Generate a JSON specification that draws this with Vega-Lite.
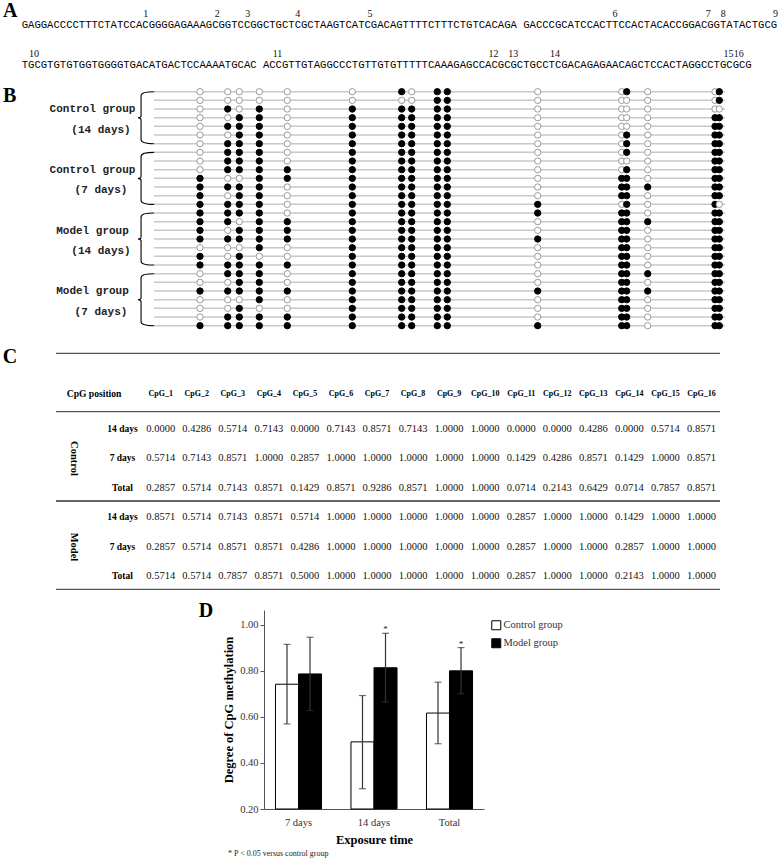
{
"$schema": "https://vega.github.io/schema/vega-lite/v6.json",
"padding": 0,
"background": "white",
"spacing": 0,
"bounds": "flush",
"resolve": {"scale": {"fill": "independent", "stroke": "independent", "x": "independent", "y": "independent"}, "legend": {"fill": "independent", "stroke": "independent"}},
"config": {"view": {"stroke": null}, "text": {"font": "Liberation Serif"}},
"datasets": {
"seqA": [
{"line": 1, "seq": "GAGGACCCCTTTCTATCCACGGGGAGAAAGCGGTCCGGCTGCTCGCTAAGTCATCGACAGTTTTCTTTCTGTCACAGA GACCCGCATCCACTTCCACTACACCGGACGGTATACTGCG"},
{"line": 2, "seq": "TGCGTGTGTGGTGGGGTGACATGACTCCAAAATGCAC ACCGTTGTAGGCCCTGTTGTGTTTTTCAAAGAGCCACGCGCTGCCTCGACAGAGAACAGCTCCACTAGGCCTGCGCG"}
],
"cpgNums": [
{"n": "1", "line": 1, "idx": 19.53},
{"n": "2", "line": 1, "idx": 30.8},
{"n": "3", "line": 1, "idx": 35.59},
{"n": "4", "line": 1, "idx": 43.46},
{"n": "5", "line": 1, "idx": 54.85},
{"n": "6", "line": 1, "idx": 93.43},
{"n": "7", "line": 1, "idx": 108.13},
{"n": "8", "line": 1, "idx": 110.49},
{"n": "9", "line": 1, "idx": 118.7},
{"n": "10", "line": 2, "idx": 1.94},
{"n": "11", "line": 2, "idx": 40.28},
{"n": "12", "line": 2, "idx": 74.3},
{"n": "13", "line": 2, "idx": 77.4},
{"n": "14", "line": 2, "idx": 83.98},
{"n": "15", "line": 2, "idx": 111.3},
{"n": "16", "line": 2, "idx": 112.9}
],
"sites": [
{"site": "CpG_1", "col": 1, "pos": 46},
{"site": "CpG_2", "col": 2, "pos": 73.7},
{"site": "CpG_3", "col": 3, "pos": 85.3},
{"site": "CpG_4", "col": 4, "pos": 105.3},
{"site": "CpG_5", "col": 5, "pos": 133.3},
{"site": "CpG_6", "col": 6, "pos": 198.3},
{"site": "CpG_7", "col": 7, "pos": 247.7},
{"site": "CpG_8", "col": 8, "pos": 257.7},
{"site": "CpG_9", "col": 9, "pos": 283.3},
{"site": "CpG_10", "col": 10, "pos": 293.3},
{"site": "CpG_11", "col": 11, "pos": 383.7},
{"site": "CpG_12", "col": 12, "pos": 467.7},
{"site": "CpG_13", "col": 13, "pos": 472.7},
{"site": "CpG_14", "col": 14, "pos": 493.7},
{"site": "CpG_15", "col": 15, "pos": 561},
{"site": "CpG_16", "col": 16, "pos": 565.3}
],
"clones": [
{"r":1,"CpG_1":0,"CpG_2":0,"CpG_3":0,"CpG_4":0,"CpG_5":0,"CpG_6":0,"CpG_7":1,"CpG_8":0,"CpG_9":1,"CpG_10":1,"CpG_11":0,"CpG_12":0,"CpG_13":1,"CpG_14":0,"CpG_15":0,"CpG_16":1},
{"r":2,"CpG_1":0,"CpG_2":0,"CpG_3":0,"CpG_4":0,"CpG_5":0,"CpG_6":0,"CpG_7":0,"CpG_8":0,"CpG_9":1,"CpG_10":1,"CpG_11":0,"CpG_12":0,"CpG_13":0,"CpG_14":0,"CpG_15":0,"CpG_16":1},
{"r":3,"CpG_1":0,"CpG_2":1,"CpG_3":0,"CpG_4":1,"CpG_5":0,"CpG_6":1,"CpG_7":1,"CpG_8":1,"CpG_9":1,"CpG_10":1,"CpG_11":0,"CpG_12":0,"CpG_13":0,"CpG_14":0,"CpG_15":0,"CpG_16":0},
{"r":4,"CpG_1":0,"CpG_2":0,"CpG_3":1,"CpG_4":1,"CpG_5":0,"CpG_6":1,"CpG_7":1,"CpG_8":1,"CpG_9":1,"CpG_10":1,"CpG_11":0,"CpG_12":0,"CpG_13":0,"CpG_14":0,"CpG_15":1,"CpG_16":1},
{"r":5,"CpG_1":0,"CpG_2":1,"CpG_3":1,"CpG_4":1,"CpG_5":0,"CpG_6":1,"CpG_7":1,"CpG_8":1,"CpG_9":1,"CpG_10":1,"CpG_11":0,"CpG_12":0,"CpG_13":0,"CpG_14":0,"CpG_15":1,"CpG_16":1},
{"r":6,"CpG_1":0,"CpG_2":0,"CpG_3":1,"CpG_4":1,"CpG_5":0,"CpG_6":1,"CpG_7":1,"CpG_8":1,"CpG_9":1,"CpG_10":1,"CpG_11":0,"CpG_12":0,"CpG_13":1,"CpG_14":0,"CpG_15":1,"CpG_16":1},
{"r":7,"CpG_1":0,"CpG_2":1,"CpG_3":1,"CpG_4":1,"CpG_5":0,"CpG_6":1,"CpG_7":1,"CpG_8":1,"CpG_9":1,"CpG_10":1,"CpG_11":0,"CpG_12":0,"CpG_13":1,"CpG_14":0,"CpG_15":1,"CpG_16":1},
{"r":8,"CpG_1":0,"CpG_2":1,"CpG_3":1,"CpG_4":1,"CpG_5":0,"CpG_6":1,"CpG_7":1,"CpG_8":1,"CpG_9":1,"CpG_10":1,"CpG_11":0,"CpG_12":0,"CpG_13":1,"CpG_14":0,"CpG_15":1,"CpG_16":1},
{"r":9,"CpG_1":0,"CpG_2":1,"CpG_3":1,"CpG_4":1,"CpG_5":0,"CpG_6":1,"CpG_7":1,"CpG_8":1,"CpG_9":1,"CpG_10":1,"CpG_11":0,"CpG_12":0,"CpG_13":0,"CpG_14":0,"CpG_15":1,"CpG_16":1},
{"r":10,"CpG_1":0,"CpG_2":1,"CpG_3":1,"CpG_4":1,"CpG_5":1,"CpG_6":1,"CpG_7":1,"CpG_8":1,"CpG_9":1,"CpG_10":1,"CpG_11":0,"CpG_12":0,"CpG_13":1,"CpG_14":0,"CpG_15":1,"CpG_16":1},
{"r":11,"CpG_1":1,"CpG_2":0,"CpG_3":0,"CpG_4":1,"CpG_5":1,"CpG_6":1,"CpG_7":1,"CpG_8":1,"CpG_9":1,"CpG_10":1,"CpG_11":0,"CpG_12":1,"CpG_13":1,"CpG_14":0,"CpG_15":1,"CpG_16":1},
{"r":12,"CpG_1":1,"CpG_2":1,"CpG_3":1,"CpG_4":1,"CpG_5":0,"CpG_6":1,"CpG_7":1,"CpG_8":1,"CpG_9":1,"CpG_10":1,"CpG_11":0,"CpG_12":1,"CpG_13":1,"CpG_14":1,"CpG_15":1,"CpG_16":1},
{"r":13,"CpG_1":1,"CpG_2":0,"CpG_3":1,"CpG_4":1,"CpG_5":0,"CpG_6":1,"CpG_7":1,"CpG_8":1,"CpG_9":1,"CpG_10":1,"CpG_11":0,"CpG_12":1,"CpG_13":1,"CpG_14":0,"CpG_15":1,"CpG_16":1},
{"r":14,"CpG_1":1,"CpG_2":1,"CpG_3":1,"CpG_4":1,"CpG_5":0,"CpG_6":1,"CpG_7":1,"CpG_8":1,"CpG_9":1,"CpG_10":1,"CpG_11":1,"CpG_12":0,"CpG_13":1,"CpG_14":0,"CpG_15":1,"CpG_16":0},
{"r":15,"CpG_1":1,"CpG_2":1,"CpG_3":1,"CpG_4":1,"CpG_5":0,"CpG_6":1,"CpG_7":1,"CpG_8":1,"CpG_9":1,"CpG_10":1,"CpG_11":1,"CpG_12":1,"CpG_13":1,"CpG_14":0,"CpG_15":1,"CpG_16":1},
{"r":16,"CpG_1":1,"CpG_2":1,"CpG_3":0,"CpG_4":1,"CpG_5":1,"CpG_6":1,"CpG_7":1,"CpG_8":1,"CpG_9":1,"CpG_10":1,"CpG_11":0,"CpG_12":1,"CpG_13":1,"CpG_14":1,"CpG_15":1,"CpG_16":1},
{"r":17,"CpG_1":1,"CpG_2":0,"CpG_3":1,"CpG_4":1,"CpG_5":1,"CpG_6":1,"CpG_7":1,"CpG_8":1,"CpG_9":1,"CpG_10":1,"CpG_11":0,"CpG_12":1,"CpG_13":1,"CpG_14":0,"CpG_15":1,"CpG_16":1},
{"r":18,"CpG_1":1,"CpG_2":1,"CpG_3":1,"CpG_4":1,"CpG_5":1,"CpG_6":1,"CpG_7":1,"CpG_8":1,"CpG_9":1,"CpG_10":1,"CpG_11":1,"CpG_12":1,"CpG_13":1,"CpG_14":0,"CpG_15":1,"CpG_16":1},
{"r":19,"CpG_1":0,"CpG_2":0,"CpG_3":0,"CpG_4":1,"CpG_5":0,"CpG_6":1,"CpG_7":1,"CpG_8":1,"CpG_9":1,"CpG_10":1,"CpG_11":0,"CpG_12":1,"CpG_13":1,"CpG_14":0,"CpG_15":1,"CpG_16":1},
{"r":20,"CpG_1":1,"CpG_2":0,"CpG_3":1,"CpG_4":0,"CpG_5":0,"CpG_6":1,"CpG_7":1,"CpG_8":1,"CpG_9":1,"CpG_10":1,"CpG_11":0,"CpG_12":1,"CpG_13":1,"CpG_14":0,"CpG_15":1,"CpG_16":1},
{"r":21,"CpG_1":1,"CpG_2":1,"CpG_3":1,"CpG_4":1,"CpG_5":1,"CpG_6":1,"CpG_7":1,"CpG_8":1,"CpG_9":1,"CpG_10":1,"CpG_11":0,"CpG_12":1,"CpG_13":1,"CpG_14":0,"CpG_15":1,"CpG_16":1},
{"r":22,"CpG_1":0,"CpG_2":1,"CpG_3":1,"CpG_4":1,"CpG_5":0,"CpG_6":1,"CpG_7":1,"CpG_8":1,"CpG_9":1,"CpG_10":1,"CpG_11":0,"CpG_12":1,"CpG_13":1,"CpG_14":1,"CpG_15":1,"CpG_16":1},
{"r":23,"CpG_1":0,"CpG_2":0,"CpG_3":1,"CpG_4":1,"CpG_5":0,"CpG_6":1,"CpG_7":1,"CpG_8":1,"CpG_9":1,"CpG_10":1,"CpG_11":0,"CpG_12":1,"CpG_13":1,"CpG_14":0,"CpG_15":1,"CpG_16":1},
{"r":24,"CpG_1":1,"CpG_2":1,"CpG_3":1,"CpG_4":1,"CpG_5":1,"CpG_6":1,"CpG_7":1,"CpG_8":1,"CpG_9":1,"CpG_10":1,"CpG_11":1,"CpG_12":1,"CpG_13":1,"CpG_14":1,"CpG_15":1,"CpG_16":1},
{"r":25,"CpG_1":0,"CpG_2":0,"CpG_3":0,"CpG_4":1,"CpG_5":0,"CpG_6":1,"CpG_7":1,"CpG_8":1,"CpG_9":1,"CpG_10":1,"CpG_11":0,"CpG_12":1,"CpG_13":1,"CpG_14":0,"CpG_15":1,"CpG_16":1},
{"r":26,"CpG_1":0,"CpG_2":0,"CpG_3":1,"CpG_4":0,"CpG_5":0,"CpG_6":1,"CpG_7":1,"CpG_8":1,"CpG_9":1,"CpG_10":1,"CpG_11":0,"CpG_12":1,"CpG_13":1,"CpG_14":0,"CpG_15":1,"CpG_16":1},
{"r":27,"CpG_1":0,"CpG_2":1,"CpG_3":1,"CpG_4":1,"CpG_5":1,"CpG_6":1,"CpG_7":1,"CpG_8":1,"CpG_9":1,"CpG_10":1,"CpG_11":0,"CpG_12":1,"CpG_13":1,"CpG_14":0,"CpG_15":1,"CpG_16":1},
{"r":28,"CpG_1":1,"CpG_2":1,"CpG_3":1,"CpG_4":1,"CpG_5":1,"CpG_6":1,"CpG_7":1,"CpG_8":1,"CpG_9":1,"CpG_10":1,"CpG_11":1,"CpG_12":1,"CpG_13":1,"CpG_14":0,"CpG_15":1,"CpG_16":1}
],
"groupsB": [
{"g": "Control group", "d": "(14 days)", "r": 4},
{"g": "Control group", "d": "(7 days)", "r": 11},
{"g": "Model group", "d": "(14 days)", "r": 18},
{"g": "Model group", "d": "(7 days)", "r": 25}
],
"tbl": [
{"g":"Control","p":"14 days","r":1,"CpG_1":0,"CpG_2":0.4286,"CpG_3":0.5714,"CpG_4":0.7143,"CpG_5":0,"CpG_6":0.7143,"CpG_7":0.8571,"CpG_8":0.7143,"CpG_9":1,"CpG_10":1,"CpG_11":0,"CpG_12":0,"CpG_13":0.4286,"CpG_14":0,"CpG_15":0.5714,"CpG_16":0.8571},
{"g":"Control","p":"7 days","r":2,"CpG_1":0.5714,"CpG_2":0.7143,"CpG_3":0.8571,"CpG_4":1,"CpG_5":0.2857,"CpG_6":1,"CpG_7":1,"CpG_8":1,"CpG_9":1,"CpG_10":1,"CpG_11":0.1429,"CpG_12":0.4286,"CpG_13":0.8571,"CpG_14":0.1429,"CpG_15":1,"CpG_16":0.8571},
{"g":"Control","p":"Total","r":3,"CpG_1":0.2857,"CpG_2":0.5714,"CpG_3":0.7143,"CpG_4":0.8571,"CpG_5":0.1429,"CpG_6":0.8571,"CpG_7":0.9286,"CpG_8":0.8571,"CpG_9":1,"CpG_10":1,"CpG_11":0.0714,"CpG_12":0.2143,"CpG_13":0.6429,"CpG_14":0.0714,"CpG_15":0.7857,"CpG_16":0.8571},
{"g":"Model","p":"14 days","r":4,"CpG_1":0.8571,"CpG_2":0.5714,"CpG_3":0.7143,"CpG_4":0.8571,"CpG_5":0.5714,"CpG_6":1,"CpG_7":1,"CpG_8":1,"CpG_9":1,"CpG_10":1,"CpG_11":0.2857,"CpG_12":1,"CpG_13":1,"CpG_14":0.1429,"CpG_15":1,"CpG_16":1},
{"g":"Model","p":"7 days","r":5,"CpG_1":0.2857,"CpG_2":0.5714,"CpG_3":0.8571,"CpG_4":0.8571,"CpG_5":0.4286,"CpG_6":1,"CpG_7":1,"CpG_8":1,"CpG_9":1,"CpG_10":1,"CpG_11":0.2857,"CpG_12":1,"CpG_13":1,"CpG_14":0.2857,"CpG_15":1,"CpG_16":1},
{"g":"Model","p":"Total","r":6,"CpG_1":0.5714,"CpG_2":0.5714,"CpG_3":0.7857,"CpG_4":0.8571,"CpG_5":0.5,"CpG_6":1,"CpG_7":1,"CpG_8":1,"CpG_9":1,"CpG_10":1,"CpG_11":0.2857,"CpG_12":1,"CpG_13":1,"CpG_14":0.2143,"CpG_15":1,"CpG_16":1}
],
"bars": [
{"time": "7 days", "group": "Control group", "mean": 0.7411, "lo": 0.569, "hi": 0.914, "sig": ""},
{"time": "7 days", "group": "Model group", "mean": 0.7857, "lo": 0.627, "hi": 0.945, "sig": ""},
{"time": "14 days", "group": "Control group", "mean": 0.4911, "lo": 0.288, "hi": 0.692, "sig": ""},
{"time": "14 days", "group": "Model group", "mean": 0.8125, "lo": 0.664, "hi": 0.962, "sig": "*"},
{"time": "Total", "group": "Control group", "mean": 0.6161, "lo": 0.483, "hi": 0.75, "sig": ""},
{"time": "Total", "group": "Model group", "mean": 0.7991, "lo": 0.70, "hi": 0.90, "sig": "*"}
]
},
"vconcat": [
{
"width": 778, "height": 75,
"layer": [
{"data": {"name": "seqA"},
 "mark": {"type": "text", "align": "left", "baseline": "middle", "font": "Liberation Mono", "fontSize": 10.58, "color": "#000"},
 "encoding": {
  "x": {"datum": 0, "type": "quantitative", "scale": {"domain": [-3.417, 119.1]}, "axis": null},
  "y": {"field": "line", "type": "quantitative", "scale": {"domain": [0.3875, 2.2625], "reverse": true}, "axis": null},
  "text": {"field": "seq"}}},
{"data": {"name": "cpgNums"},
 "mark": {"type": "text", "align": "center", "baseline": "middle", "font": "Liberation Serif", "fontSize": 10, "dy": -11, "color": "#111"},
 "encoding": {
  "x": {"field": "idx", "type": "quantitative", "scale": {"domain": [-3.417, 119.1]}, "axis": null},
  "y": {"field": "line", "type": "quantitative", "scale": {"domain": [0.3875, 2.2625], "reverse": true}, "axis": null},
  "text": {"field": "n"}}},
{"data": {"values": [{"t": "A"}]},
 "mark": {"type": "text", "align": "left", "baseline": "alphabetic", "font": "Liberation Serif", "fontSize": 20, "fontWeight": "bold", "dy": -7.8},
 "encoding": {
  "x": {"datum": -2.945, "type": "quantitative", "scale": {"domain": [-3.417, 119.1]}, "axis": null},
  "y": {"datum": 1, "type": "quantitative", "scale": {"domain": [0.3875, 2.2625], "reverse": true}, "axis": null},
  "text": {"field": "t"}}}
]
},
{
"width": 778, "height": 265,
"layer": [
{"data": {"name": "clones"},
 "mark": {"type": "rule", "color": "#c8c8c8", "strokeWidth": 1.5},
 "encoding": {
  "x": {"datum": 0, "type": "quantitative", "scale": {"domain": [-154, 624]}, "axis": null},
  "x2": {"datum": 571},
  "y": {"field": "r", "type": "quantitative", "scale": {"domain": [-0.927, 29.65], "reverse": true}, "axis": null}}},
{"data": {"name": "clones"},
 "transform": [
  {"fold": ["CpG_1","CpG_2","CpG_3","CpG_4","CpG_5","CpG_6","CpG_7","CpG_8","CpG_9","CpG_10","CpG_11","CpG_12","CpG_13","CpG_14","CpG_15","CpG_16"], "as": ["site", "v"]},
  {"lookup": "site", "from": {"data": {"name": "sites"}, "key": "site", "fields": ["pos"]}}],
 "mark": {"type": "point", "shape": "circle", "filled": true, "size": 40, "strokeWidth": 1, "opacity": 1},
 "encoding": {
  "x": {"field": "pos", "type": "quantitative", "scale": {"domain": [-154, 624]}, "axis": null},
  "y": {"field": "r", "type": "quantitative", "scale": {"domain": [-0.927, 29.65], "reverse": true}, "axis": null},
  "fill": {"field": "v", "type": "nominal", "scale": {"domain": [0, 1], "range": ["white", "black"]}, "legend": null},
  "stroke": {"field": "v", "type": "nominal", "scale": {"domain": [0, 1], "range": ["#9a9a9a", "black"]}, "legend": null}}},
{"data": {"name": "groupsB"},
 "mark": {"type": "point", "shape": "M 0.31 -1 C 0.05 -1 -0.19 -0.97 -0.19 -0.85 L -0.19 -0.08 Q -0.19 0 -0.31 0 Q -0.19 0 -0.19 0.08 L -0.19 0.85 C -0.19 0.97 0.05 1 0.31 1", "filled": false, "color": "black", "strokeWidth": 1.1, "size": 2704, "opacity": 1},
 "encoding": {
  "x": {"datum": -8, "type": "quantitative", "scale": {"domain": [-154, 624]}, "axis": null},
  "y": {"field": "r", "type": "quantitative", "scale": {"domain": [-0.927, 29.65], "reverse": true}, "axis": null}}},
{"data": {"name": "groupsB"},
 "mark": {"type": "text", "align": "center", "baseline": "middle", "font": "Liberation Mono", "fontSize": 11, "fontWeight": "bold", "dy": -8.4, "color": "#222"},
 "encoding": {
  "x": {"datum": -61.5, "type": "quantitative", "scale": {"domain": [-154, 624]}, "axis": null},
  "y": {"field": "r", "type": "quantitative", "scale": {"domain": [-0.927, 29.65], "reverse": true}, "axis": null},
  "text": {"field": "g"}}},
{"data": {"name": "groupsB"},
 "mark": {"type": "text", "align": "center", "baseline": "middle", "font": "Liberation Mono", "fontSize": 11, "fontWeight": "bold", "dy": 12, "color": "#222"},
 "encoding": {
  "x": {"datum": -53, "type": "quantitative", "scale": {"domain": [-154, 624]}, "axis": null},
  "y": {"field": "r", "type": "quantitative", "scale": {"domain": [-0.927, 29.65], "reverse": true}, "axis": null},
  "text": {"field": "d"}}},
{"data": {"values": [{"t": "B"}]},
 "mark": {"type": "text", "align": "left", "baseline": "alphabetic", "font": "Liberation Serif", "fontSize": 20, "fontWeight": "bold"},
 "encoding": {
  "x": {"datum": -151, "type": "quantitative", "scale": {"domain": [-154, 624]}, "axis": null},
  "y": {"datum": 2.154, "type": "quantitative", "scale": {"domain": [-0.927, 29.65], "reverse": true}, "axis": null},
  "text": {"field": "t"}}}
]
},
{
"width": 778, "height": 270,
"layer": [
{"data": {"values": [{"t": "C"}]},
 "mark": {"type": "rule", "color": "#555", "strokeWidth": 1.3},
 "encoding": {
  "x": {"datum": -1.904, "type": "quantitative", "scale": {"domain": [-3.458, 18.123]}, "axis": null},
  "x2": {"datum": 16.515},
  "y": {"datum": -1.566, "type": "quantitative", "scale": {"domain": [-2.017, 7.136], "reverse": true}, "axis": null}}},
{"data": {"values": [{"t": "C"}]},
 "mark": {"type": "rule", "color": "#555", "strokeWidth": 1.3},
 "encoding": {
  "x": {"datum": -1.904, "type": "quantitative", "scale": {"domain": [-3.458, 18.123]}, "axis": null},
  "x2": {"datum": 16.515},
  "y": {"datum": 0.414, "type": "quantitative", "scale": {"domain": [-2.017, 7.136], "reverse": true}, "axis": null}}},
{"data": {"values": [{"t": "C"}]},
 "mark": {"type": "rule", "color": "#666", "strokeWidth": 2.2},
 "encoding": {
  "x": {"datum": -1.904, "type": "quantitative", "scale": {"domain": [-3.458, 18.123]}, "axis": null},
  "x2": {"datum": 16.515},
  "y": {"datum": 3.441, "type": "quantitative", "scale": {"domain": [-2.017, 7.136], "reverse": true}, "axis": null}}},
{"data": {"values": [{"t": "C"}]},
 "mark": {"type": "rule", "color": "#555", "strokeWidth": 1.3},
 "encoding": {
  "x": {"datum": -1.904, "type": "quantitative", "scale": {"domain": [-3.458, 18.123]}, "axis": null},
  "x2": {"datum": 16.515},
  "y": {"datum": 6.434, "type": "quantitative", "scale": {"domain": [-2.017, 7.136], "reverse": true}, "axis": null}}},
{"data": {"values": [{"t": "C"}]},
 "mark": {"type": "text", "align": "center", "baseline": "alphabetic", "font": "Liberation Serif", "fontSize": 20, "fontWeight": "bold"},
 "encoding": {
  "x": {"datum": -3.18, "type": "quantitative", "scale": {"domain": [-3.458, 18.123]}, "axis": null},
  "y": {"datum": -1.227, "type": "quantitative", "scale": {"domain": [-2.017, 7.136], "reverse": true}, "axis": null},
  "text": {"field": "t"}}},
{"data": {"values": [{"t": "CpG position"}]},
 "mark": {"type": "text", "align": "left", "baseline": "middle", "font": "Liberation Serif", "fontSize": 9.6, "fontWeight": "bold"},
 "encoding": {
  "x": {"datum": -1.607, "type": "quantitative", "scale": {"domain": [-3.458, 18.123]}, "axis": null},
  "y": {"datum": -0.176, "type": "quantitative", "scale": {"domain": [-2.017, 7.136], "reverse": true}, "axis": null},
  "text": {"field": "t"}}},
{"data": {"name": "sites"},
 "mark": {"type": "text", "align": "center", "baseline": "middle", "font": "Liberation Serif", "fontSize": 8, "fontWeight": "bold"},
 "encoding": {
  "x": {"field": "col", "type": "quantitative", "scale": {"domain": [-3.458, 18.123]}, "axis": null},
  "y": {"datum": -0.176, "type": "quantitative", "scale": {"domain": [-2.017, 7.136], "reverse": true}, "axis": null},
  "text": {"field": "site"}}},
{"data": {"name": "tbl"},
 "mark": {"type": "text", "align": "center", "baseline": "middle", "font": "Liberation Serif", "fontSize": 9.5, "fontWeight": "bold"},
 "encoding": {
  "x": {"datum": -0.06, "type": "quantitative", "scale": {"domain": [-3.458, 18.123]}, "axis": null},
  "y": {"field": "r", "type": "quantitative", "scale": {"domain": [-2.017, 7.136], "reverse": true}, "axis": null},
  "text": {"field": "p"}}},
{"data": {"name": "tbl"},
 "transform": [{"filter": "datum.p === '7 days'"}],
 "mark": {"type": "text", "align": "center", "baseline": "middle", "font": "Liberation Serif", "fontSize": 10.5, "fontWeight": "bold", "angle": 90},
 "encoding": {
  "x": {"datum": -1.405, "type": "quantitative", "scale": {"domain": [-3.458, 18.123]}, "axis": null},
  "y": {"field": "r", "type": "quantitative", "scale": {"domain": [-2.017, 7.136], "reverse": true}, "axis": null},
  "text": {"field": "g"}}},
{"data": {"name": "tbl"},
 "transform": [
  {"fold": ["CpG_1","CpG_2","CpG_3","CpG_4","CpG_5","CpG_6","CpG_7","CpG_8","CpG_9","CpG_10","CpG_11","CpG_12","CpG_13","CpG_14","CpG_15","CpG_16"], "as": ["site", "v"]},
  {"lookup": "site", "from": {"data": {"name": "sites"}, "key": "site", "fields": ["col"]}}],
 "mark": {"type": "text", "align": "center", "baseline": "middle", "font": "Liberation Serif", "fontSize": 10.5, "color": "#111"},
 "encoding": {
  "x": {"field": "col", "type": "quantitative", "scale": {"domain": [-3.458, 18.123]}, "axis": null},
  "y": {"field": "r", "type": "quantitative", "scale": {"domain": [-2.017, 7.136], "reverse": true}, "axis": null},
  "text": {"field": "v", "type": "quantitative", "format": ".4f"}}}
]
},
{
"hconcat": [
{"width": 264, "height": 199,
 "data": {"values": [{"t": "D"}]},
 "mark": {"type": "text", "align": "center", "baseline": "alphabetic", "font": "Liberation Serif", "fontSize": 20, "fontWeight": "bold"},
 "encoding": {
  "x": {"datum": 0.78, "type": "quantitative", "scale": {"domain": [0, 1]}, "axis": null},
  "y": {"datum": 0.966, "type": "quantitative", "scale": {"domain": [0, 1]}, "axis": null},
  "text": {"field": "t"}}},
{"width": 220, "height": 199,
 "data": {"name": "bars"},
 "title": {"text": "* P < 0.05  versus control group", "orient": "bottom", "anchor": "start", "frame": "group", "dx": -36, "offset": 4, "fontSize": 8, "fontWeight": "normal", "font": "Liberation Serif", "color": "#222"},
 "encoding": {
  "x": {"field": "time", "type": "nominal", "sort": ["7 days", "14 days", "Total"], "scale": {"paddingInner": 0.39, "paddingOuter": 0.152},
        "axis": {"title": "Exposure time", "labelAngle": 0, "ticks": false, "tickSize": 0, "labelPadding": 8, "domainColor": "#555", "labelFont": "Liberation Serif", "labelFontSize": 10.5, "labelColor": "#333", "titleFont": "Liberation Serif", "titleFontSize": 12.5, "titleFontWeight": "bold", "titleColor": "black", "titlePadding": 6}},
  "xOffset": {"field": "group", "type": "nominal", "sort": ["Control group", "Model group"], "scale": {"paddingInner": 0, "paddingOuter": 0}}
 },
 "layer": [
  {"mark": {"type": "bar", "stroke": "black", "strokeWidth": 1},
   "encoding": {
    "y": {"field": "mean", "type": "quantitative", "scale": {"domain": [0.2, 1.063], "nice": false, "zero": false},
          "axis": {"title": "Degree of CpG methylation", "values": [0.2, 0.4, 0.6, 0.8, 1.0], "format": ".2f", "grid": false, "tickSize": 4, "labelPadding": 2, "tickColor": "#555", "domainColor": "#555", "labelFont": "Liberation Serif", "labelFontSize": 10.5, "labelColor": "#333", "titleFont": "Liberation Serif", "titleFontSize": 12.5, "titleFontWeight": "bold", "titleColor": "black", "titlePadding": 4}},
    "y2": {"datum": 0.2},
    "fill": {"field": "group", "type": "nominal", "sort": ["Control group", "Model group"], "scale": {"domain": ["Control group", "Model group"], "range": ["white", "black"]},
             "legend": {"title": null, "orient": "none", "legendX": 227, "legendY": 10, "symbolType": "square", "symbolSize": 81, "symbolStrokeColor": "black", "symbolStrokeWidth": 1, "labelFont": "Liberation Serif", "labelFontSize": 10.5, "labelColor": "#333", "rowPadding": 4, "labelOffset": 2}}}},
  {"mark": {"type": "rule", "color": "#333", "strokeWidth": 1.2},
   "encoding": {"y": {"field": "lo", "type": "quantitative", "title": "Degree of CpG methylation"}, "y2": {"field": "hi"}}},
  {"mark": {"type": "tick", "color": "#333", "size": 7, "thickness": 1.2},
   "encoding": {"y": {"field": "hi", "type": "quantitative", "title": "Degree of CpG methylation"}}},
  {"mark": {"type": "tick", "color": "#333", "size": 7, "thickness": 1.2},
   "encoding": {"y": {"field": "lo", "type": "quantitative", "title": "Degree of CpG methylation"}}},
  {"mark": {"type": "text", "fontSize": 9, "baseline": "alphabetic", "dy": -1, "font": "Liberation Serif", "color": "#222"},
   "encoding": {"y": {"field": "hi", "type": "quantitative", "title": "Degree of CpG methylation"}, "text": {"field": "sig"}}}
 ]
}
],
"spacing": 0,
"bounds": "flush",
"resolve": {"scale": {"fill": "independent"}, "legend": {"fill": "independent"}}
}
]
}
